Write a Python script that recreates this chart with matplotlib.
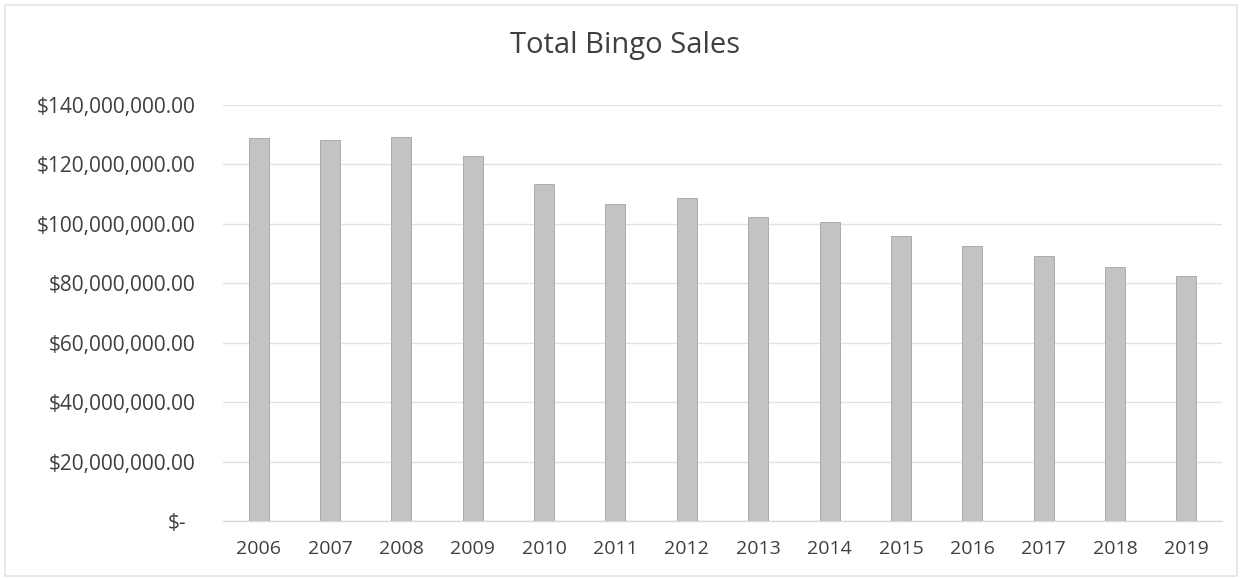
import matplotlib
matplotlib.use('Agg')
import matplotlib.pyplot as plt
import matplotlib.transforms as mtransforms
from matplotlib.patches import Rectangle

# data
years = ['2006', '2007', '2008', '2009', '2010', '2011', '2012',
         '2013', '2014', '2015', '2016', '2017', '2018', '2019']
sales = [128.8e6, 128.2e6, 129.1e6, 122.9e6, 113.5e6, 106.6e6, 108.7e6,
         102.2e6, 100.6e6, 96.0e6, 92.4e6, 89.1e6, 85.6e6, 82.5e6]
yticks = [0, 20e6, 40e6, 60e6, 80e6, 100e6, 120e6, 140e6]

plt.rcParams['font.family'] = ['Open Sans', 'DejaVu Sans']
text_color = '#3f3f3f'

fig = plt.figure(figsize=(12.42, 5.78), dpi=100)
fig.patch.set_facecolor('white')
# faint outer chart border
fig.add_artist(Rectangle((0.004, 0.004), 0.992, 0.988, transform=fig.transFigure,
                         fill=False, edgecolor='#e4e4e4', linewidth=1.2))

ax = fig.add_axes([0.1795, 0.0986, 0.8044, 0.7197])
x = range(len(years))
ax.bar(x, sales, width=0.28, color='#c3c3c3', edgecolor='#ababab', linewidth=0.7, zorder=3)

ax.set_xlim(-0.5, len(years) - 0.5)
ax.set_ylim(0, 140e6)
ax.set_yticks(yticks)
labels = ['$-'] + ['${:,.2f}'.format(v) for v in yticks[1:]]
ax.set_yticklabels(labels)
ax.set_xticks(list(x))
ax.set_xticklabels(years)

ax.tick_params(axis='y', length=0, pad=20, labelsize=15, labelcolor=text_color)
ax.tick_params(axis='x', length=0, pad=14, labelsize=14, labelcolor=text_color)

# accounting format: the "$-" sits a bit left of the other labels
zero_lbl = ax.get_yticklabels()[0]
zero_lbl.set_transform(zero_lbl.get_transform() +
                       mtransforms.ScaledTranslation(-9 / 100, 0, fig.dpi_scale_trans))

ax.grid(axis='y', color='#e2e2e2', linewidth=1.0, zorder=0)
for s in ['top', 'right', 'left']:
    ax.spines[s].set_visible(False)
ax.spines['bottom'].set_color('#d8d8d8')
ax.spines['bottom'].set_linewidth(1.0)

fig.text(0.503, 0.922, 'Total Bingo Sales', ha='center', va='center',
         fontsize=21, color=text_color)

plt.savefig('out.png', dpi=100)
